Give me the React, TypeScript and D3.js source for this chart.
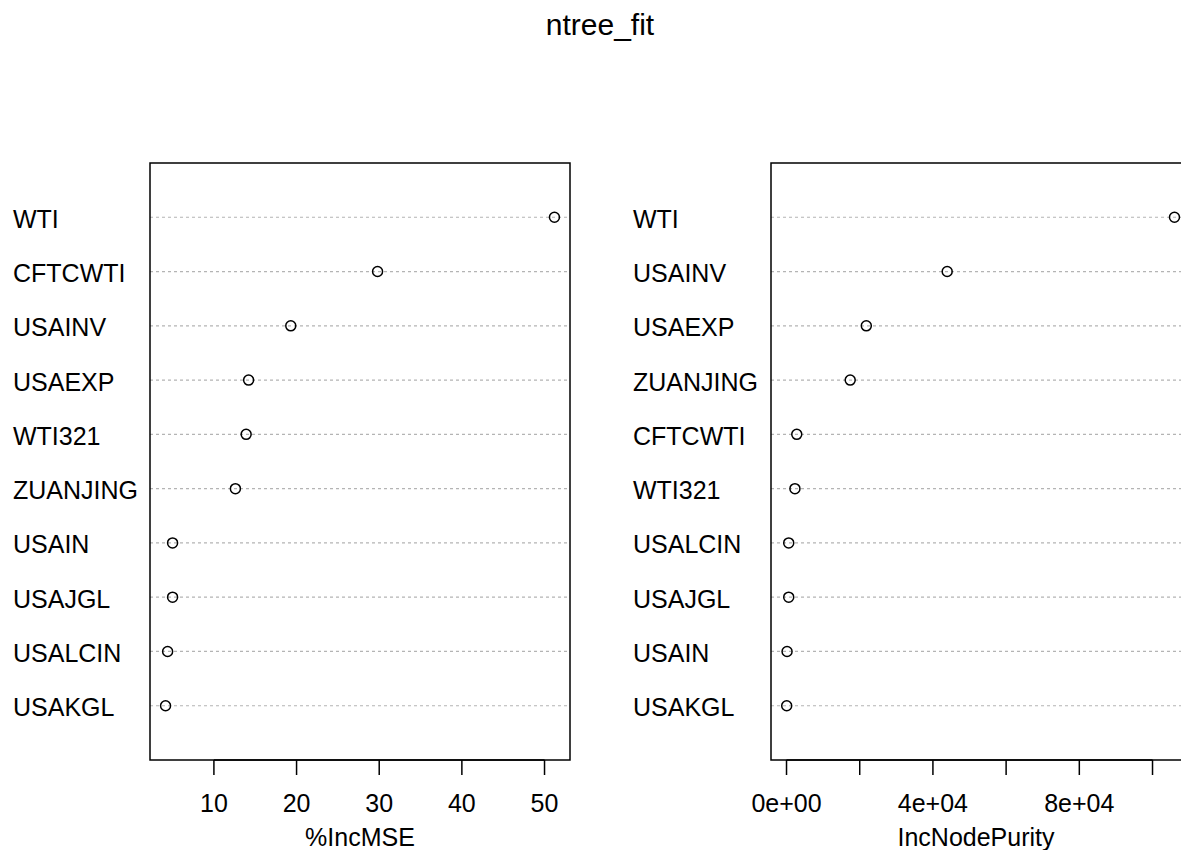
import React from "react";
import * as d3 from "d3";

const leftVars = ["WTI", "CFTCWTI", "USAINV", "USAEXP", "WTI321", "ZUANJING", "USAIN", "USAJGL", "USALCIN", "USAKGL"];
const leftVals = [51.2, 29.8, 19.3, 14.2, 13.9, 12.6, 5.0, 5.0, 4.4, 4.15];
const leftTicks = [10, 20, 30, 40, 50];

const rightVars = ["WTI", "USAINV", "USAEXP", "ZUANJING", "CFTCWTI", "WTI321", "USALCIN", "USAJGL", "USAIN", "USAKGL"];
const rightVals = [106000, 43900, 21800, 17400, 2800, 2300, 600, 600, 150, 50];
const rightTicks = [0, 20000, 40000, 60000, 80000, 100000];
const rightTickLabels = ["0e+00", "", "4e+04", "", "8e+04", ""];

const FONT = "'Liberation Sans', Arial, sans-serif";

type PanelProps = {
  vars: string[];
  vals: number[];
  ticks: number[];
  tickLabels: string[];
  xlabel: string;
  boxLeft: number;
  boxRight: number;
  labelX: number;
  xmin: number;
};

function Panel({ vars, vals, ticks, tickLabels, xlabel, boxLeft, boxRight, labelX, xmin }: PanelProps) {
  const top = 163;
  const bottom = 760;
  const n = vars.length;
  const mn = Math.min(xmin, d3.min(vals) as number);
  const mx = d3.max(vals) as number;
  const pad = (mx - mn) * 0.04;
  const x = d3.scaleLinear().domain([mn - pad, mx + pad]).range([boxLeft, boxRight]);
  const y = d3.scaleLinear().domain([0, n + 1]).range([bottom, top]);
  return (
    <g>
      {vars.map((v, i) => {
        const yy = y(n - i);
        return (
          <g key={v}>
            <line x1={boxLeft} x2={boxRight} y1={yy} y2={yy} stroke="#b4b4b4" strokeWidth={1.2} strokeDasharray="3,3" />
            <circle cx={x(vals[i])} cy={yy} r={5} fill="none" stroke="#000" strokeWidth={1.5} />
            <text x={labelX} y={yy + 1.5} fontSize={25} fontFamily={FONT} dominantBaseline="central" fill="#000">
              {v}
            </text>
          </g>
        );
      })}
      <rect x={boxLeft} y={top} width={boxRight - boxLeft} height={bottom - top} fill="none" stroke="#000" strokeWidth={1.5} />
      <line x1={x(ticks[0])} x2={x(ticks[ticks.length - 1])} y1={bottom} y2={bottom} stroke="#000" strokeWidth={1.5} />
      {ticks.map((t, i) => (
        <g key={t}>
          <line x1={x(t)} x2={x(t)} y1={bottom} y2={bottom + 15} stroke="#000" strokeWidth={1.5} />
          <text x={x(t)} y={812} fontSize={25} fontFamily={FONT} textAnchor="middle" fill="#000">
            {tickLabels[i]}
          </text>
        </g>
      ))}
      <text x={(boxLeft + Math.min(boxRight, 1181)) / 2} y={846} fontSize={25} fontFamily={FONT} textAnchor="middle" fill="#000">
        {xlabel}
      </text>
    </g>
  );
}

export default function App() {
  return (
    <svg width={1181} height={850} style={{ position: "absolute", left: 0, top: 0, background: "#fff" }}>
      <rect x={0} y={0} width={1181} height={850} fill="#fff" />
      <text x={600} y={35} fontSize={30} fontFamily={FONT} textAnchor="middle" fill="#000">
        ntree_fit
      </text>
      <Panel
        vars={leftVars}
        vals={leftVals}
        ticks={leftTicks}
        tickLabels={leftTicks.map(String)}
        xlabel="%IncMSE"
        boxLeft={150}
        boxRight={570}
        labelX={13}
        xmin={4.15}
      />
      <Panel
        vars={rightVars}
        vals={rightVals}
        ticks={rightTicks}
        tickLabels={rightTickLabels}
        xlabel="IncNodePurity"
        boxLeft={771}
        boxRight={1190}
        labelX={633}
        xmin={0}
      />
    </svg>
  );
}
